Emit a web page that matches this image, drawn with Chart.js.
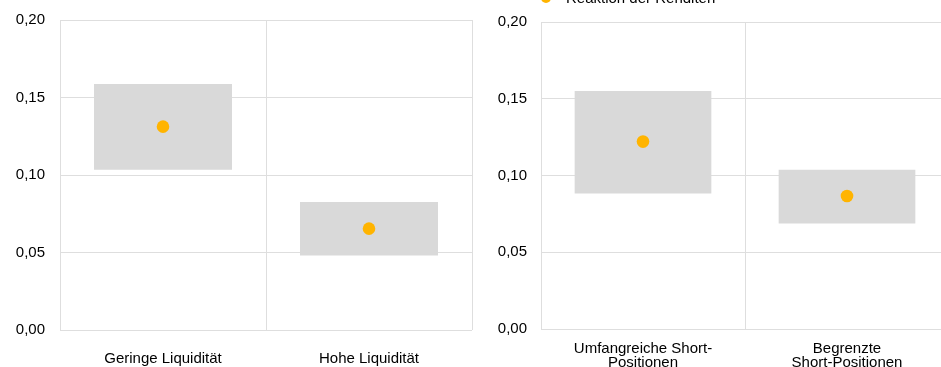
<!DOCTYPE html>
<html>
<head>
<meta charset="utf-8">
<script src="https://cdn.jsdelivr.net/npm/chart.js@4.4.1/dist/chart.umd.min.js"></script>
<style>
  body { margin: 0; width: 941px; height: 367px; overflow: hidden; position: relative; background: #fff; font-family: "Liberation Sans", Arial, sans-serif; }
  #chartLeft { position: absolute; left: 0; top: 0; }
  #chartRight { position: absolute; left: 480px; top: 0; }
  .dot { position: absolute; left: 541px; top: -7px; width: 10px; height: 10px; border-radius: 50%; background: #ffb400; }
  .legtext { position: absolute; left: 566px; top: -10px; font-size: 15px; line-height: 15px; color: #000; white-space: nowrap; }
</style>
</head>
<body>
<canvas id="chartLeft" width="480" height="367"></canvas>
<canvas id="chartRight" width="480" height="367"></canvas>
<div class="dot"></div>
<div class="legtext">Reaktion der Renditen</div>
<script>
// Linkes Panel: Liquidität
const liqLabels = ['Geringe Liquidität', 'Hohe Liquidität'];
const liqRange = [[0.1034, 0.1587], [0.048, 0.0826]];
const liqPoint = [0.1312, 0.0654];

// Rechtes Panel: Short-Positionen
const shortLabels = [['Umfangreiche Short-', 'Positionen'], ['Begrenzte', 'Short-Positionen']];
const shortRange = [[0.0883, 0.1551], [0.0687, 0.1037]];
const shortPoint = [0.1221, 0.0866];

const yTicks = [0, 0.05, 0.10, 0.15, 0.20];

const grey = '#d9d9d9';
const gridColor = '#dedede';
const orange = '#ffb400';

Chart.defaults.font.family = '"Liberation Sans", Arial, sans-serif';
Chart.defaults.font.size = 15;
Chart.defaults.color = '#000';

function makeChart(id, labels, range, points, o) {
    return new Chart(document.getElementById(id), {
        type: 'bar',
        data: {
            labels: labels,
            datasets: [{
                label: 'Bandbreite',
                data: range,
                backgroundColor: grey,
                borderWidth: 0,
                barPercentage: 0.67,
                categoryPercentage: 1,
                order: 2
            }, {
                type: 'line',
                label: 'Reaktion der Renditen',
                data: points,
                showLine: false,
                pointRadius: 6.3,
                pointBorderWidth: 0,
                pointBackgroundColor: orange,
                order: 1
            }]
        },
        options: {
            responsive: false,
            animation: false,
            layout: { padding: { left: 0, right: o.right, top: o.top, bottom: 0 } },
            plugins: { legend: { display: false }, tooltip: { enabled: false } },
            scales: {
                x: {
                    grid: { color: gridColor, offset: true, drawTicks: false },
                    border: { display: false },
                    ticks: { padding: o.xPad, font: { size: 15, lineHeight: 0.94 }, maxRotation: 0 },
                    afterFit: (scale) => {
                        scale.height = o.xHeight;
                        scale.paddingLeft = scale.paddingRight = 0;
                    }
                },
                y: {
                    min: 0,
                    max: 0.2,
                    afterBuildTicks: (scale) => { scale.ticks = yTicks.map(v => ({ value: v })); },
                    ticks: {
                        padding: o.yPad,
                        callback: (v) => v.toFixed(2).replace('.', ',')
                    },
                    grid: { color: gridColor, drawTicks: false },
                    border: { display: false },
                    afterFit: (scale) => {
                        scale.width = o.yWidth;
                        scale.paddingTop = scale.paddingBottom = 0;
                    }
                }
            }
        }
    });
}

makeChart('chartLeft', liqLabels, liqRange, liqPoint,
    { right: 8, top: 20, xPad: 22, xHeight: 37, yPad: 15, yWidth: 60 });
makeChart('chartRight', shortLabels, shortRange, shortPoint,
    { right: 11, top: 22, xPad: 13, xHeight: 38, yPad: 14, yWidth: 61 });
</script>
</body>
</html>
